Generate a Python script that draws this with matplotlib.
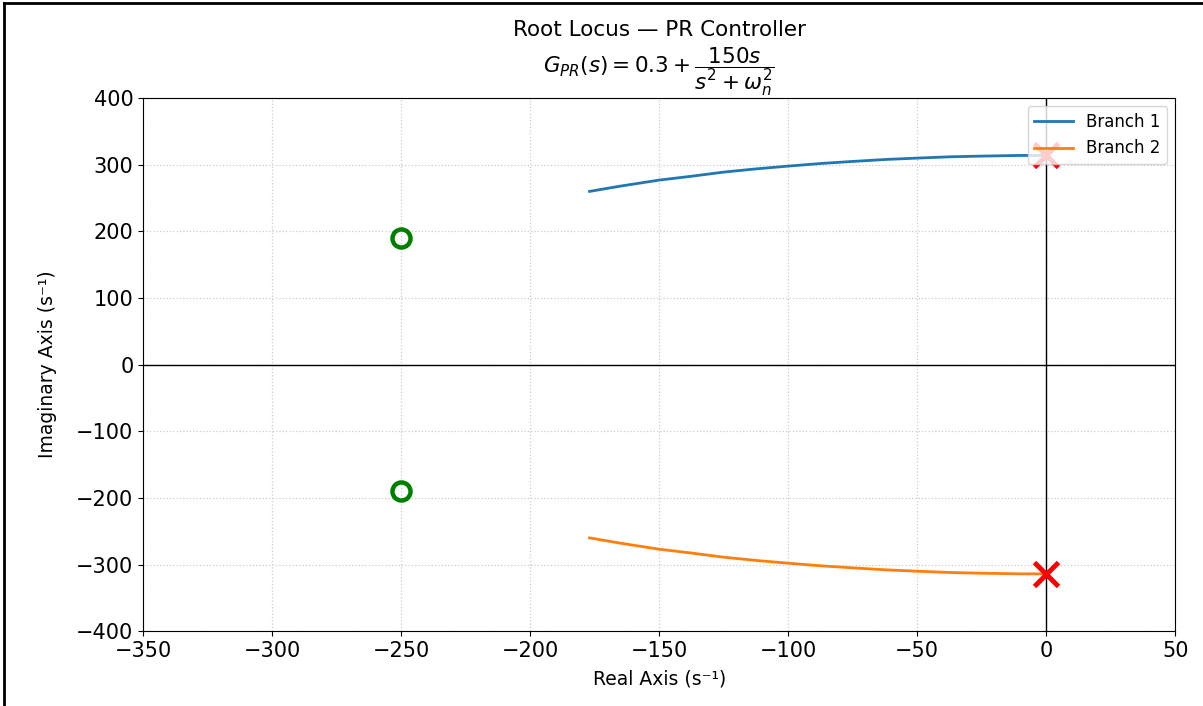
import matplotlib
matplotlib.use("Agg")
import matplotlib.pyplot as plt
from matplotlib.lines import Line2D

# --- datos ---
branch1_re = [-177, -165, -150, -137, -125, -112, -100, -87, -75, -62, -50, -37, -25, -10, 0]
branch1_im = [260, 268, 277, 283, 289, 294, 298, 302, 305, 308, 310, 312, 313, 314, 314]
branch2_re = [-177, -165, -150, -137, -125, -112, -100, -87, -75, -62, -50, -37, -25, -10, 0]
branch2_im = [-260, -268, -277, -283, -289, -294, -298, -302, -305, -308, -310, -312, -313, -314, -314]

zeros_re = [-250, -250]
zeros_im = [190, -190]
poles_re = [0, 0]
poles_im = [314, -314]

fig = plt.figure(figsize=(12.03, 7.06), dpi=100)
ax = fig.add_axes([0.119, 0.106, 0.858, 0.755])

ax.axhline(0, color="black", linewidth=1)
ax.axvline(0, color="black", linewidth=1)

ax.plot(branch1_re, branch1_im, color="tab:blue", linewidth=2, label="Branch 1")
ax.plot(branch2_re, branch2_im, color="tab:orange", linewidth=2, label="Branch 2")
ax.plot(zeros_re, zeros_im, "o", ms=13, mew=3.2, mfc="none", mec="green", linestyle="none")
ax.plot(poles_re, poles_im, "x", ms=17, mew=3.5, color="red", linestyle="none")

ax.set_xlim(-350, 50)
ax.set_ylim(-400, 400)
ax.set_xticks(range(-350, 51, 50))
ax.set_yticks(range(-400, 401, 100))
ax.tick_params(labelsize=15)
ax.grid(True, linestyle=":", color="#cccccc", linewidth=0.9)

ax.set_xlabel("Real Axis (s⁻¹)", fontsize=13.5, labelpad=6)
ax.set_ylabel("Imaginary Axis (s⁻¹)", fontsize=13.5, labelpad=14)
ax.set_title("Root Locus — PR Controller\n"
             r"$G_{PR}(s) = 0.3 + \dfrac{150s}{s^2 + \omega_n^2}$",
             fontsize=15.5, pad=0)
ax.legend(loc="upper right", fontsize=12, framealpha=0.8, handlelength=2.3)

# marco de la captura
fig.add_artist(Line2D([0.003, 0.003], [0, 0.996], transform=fig.transFigure, color="black", linewidth=2))
fig.add_artist(Line2D([0.003, 1], [0.996, 0.996], transform=fig.transFigure, color="black", linewidth=2))

fig.savefig("out.png", dpi=100)
